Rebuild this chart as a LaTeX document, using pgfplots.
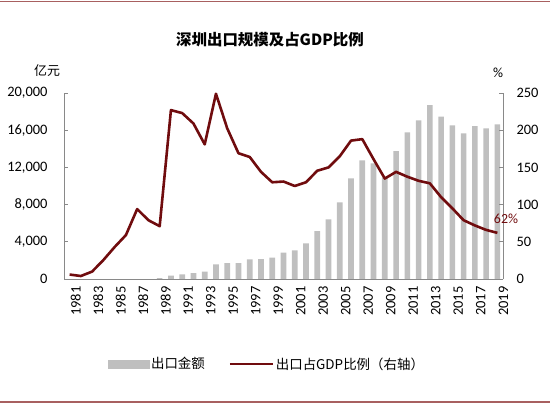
\documentclass[border=0pt]{standalone}
\usepackage{pgfplots}
\pgfplotsset{compat=1.18}
\usepackage{fontspec}
\setmainfont{Carlito}
\newfontfamily\cjk{Noto Sans CJK SC}
\definecolor{barc}{RGB}{191,191,191}
\definecolor{linec}{RGB}{112,12,14}
\definecolor{axc}{RGB}{137,137,137}
\definecolor{framec}{RGB}{168,96,96}
\begin{document}
\begin{tikzpicture}
\useasboundingbox (0,0) rectangle (550bp,404bp);
\draw[framec, line width=1.5bp] (0,402.5bp) -- (550bp,402.5bp);
\draw[framec, line width=1.5bp] (0,1.8bp) -- (550bp,1.8bp);
\pgfplotsset{
  every axis/.append style={
    scale only axis, width=439bp, height=186bp,
    at={(64bp,125bp)}, anchor=south west,
    xmin=1980.5, xmax=2019.5,
    tick align=inside,
    major tick length=4bp,
    tick style={axc, line width=0.8bp},
    axis line style={axc, line width=0.8bp},
    tick label style={font=\fontsize{14.5}{17}\selectfont},
    /pgf/number format/assume math mode=true,
  }
}
\begin{axis}[
  axis y line*=left, axis x line*=bottom,
  ymin=0, ymax=20000,
  ytick={0,4000,8000,12000,16000,20000},
  yticklabel style={xshift=-13bp, /pgf/number format/.cd, 1000 sep={,}},
  scaled y ticks=false,
  xtick={1981,1983,...,2019},
  xticklabel style={rotate=90, anchor=east, yshift=-6bp, /pgf/number format/.cd, 1000 sep={}},
  major x tick style={draw=none},
  extra x ticks={1982.5,1984.5,...,2018.5},
  extra x tick labels={},
  extra x tick style={tick style={axc, line width=0.8bp}, major tick length=4bp},
  ybar, bar width=0.5,
]
\addplot[fill=barc, draw=none] coordinates {
(1989,90) (1990,360) (1991,500) (1992,645) (1993,785) (1994,1580) (1995,1720)
(1996,1700) (1997,2115) (1998,2150) (1999,2290) (2000,2830) (2001,3070)
(2002,3835) (2003,5160) (2004,6415) (2005,8240) (2006,10820) (2007,12755)
(2008,12435) (2009,10930) (2010,13760) (2011,15770) (2012,17055) (2013,18705)
(2014,17450) (2015,16520) (2016,15660) (2017,16450) (2018,16200) (2019,16630)
};
\end{axis}
\begin{axis}[
  axis y line*=right, axis x line=none,
  ymin=0, ymax=250,
  ytick={0,50,100,150,200,250},
  yticklabel style={xshift=10bp},
  legend style={at={(0.462,-0.457)}, anchor=center, draw=none, fill=none,
    legend columns=2, font=\cjk\fontsize{13.5}{16}\selectfont,
    /tikz/every even column/.append style={column sep=22bp}},
  legend cell align=left,
]
\addlegendimage{legend image code/.code={\fill[barc] (0bp,-4bp) rectangle (41bp,4bp);}}
\addlegendentry{出口金额}
\addplot[linec, line width=2.6bp, line join=round,
  legend image code/.code={\draw[linec, line width=2bp] (0bp,0bp) -- (43bp,0bp);}] coordinates {
(1981,6) (1982,4) (1983,10) (1984,25.5) (1985,43) (1986,59) (1987,94) (1988,79)
(1989,71) (1990,227) (1991,223) (1992,209) (1993,181) (1994,249) (1995,202.5)
(1996,169) (1997,164) (1998,144) (1999,130) (2000,131) (2001,125) (2002,130)
(2003,145.5) (2004,150) (2005,165) (2006,186) (2007,188) (2008,161) (2009,135)
(2010,144) (2011,137.5) (2012,132) (2013,128.6) (2014,110) (2015,95) (2016,79)
(2017,72) (2018,66) (2019,62)
};
\addlegendentry{出口占GDP比例（右轴）}
\end{axis}
\node[font=\cjk\bfseries\fontsize{15.5}{18}\selectfont] at (270bp,364bp) {深圳出口规模及占GDP比例};
\node[font=\cjk\fontsize{13}{15}\selectfont] at (47bp,333bp) {亿元};
\node[font=\fontsize{14}{16}\selectfont] at (498bp,331bp) {\%};
\node[font=\fontsize{14}{16}\selectfont, text=linec] at (506bp,185bp) {62\%};
\end{tikzpicture}
\end{document}
